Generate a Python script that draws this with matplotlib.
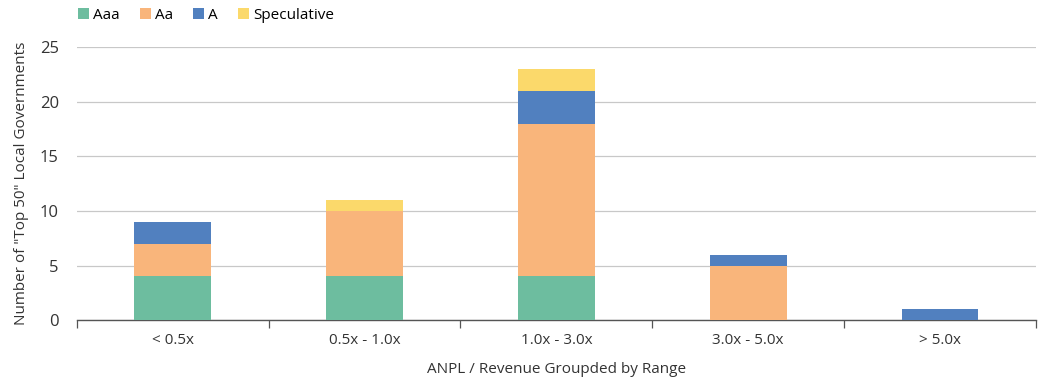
import matplotlib
matplotlib.use("Agg")
import matplotlib.pyplot as plt
import numpy as np

categories = ["< 0.5x", "0.5x - 1.0x", "1.0x - 3.0x", "3.0x - 5.0x", "> 5.0x"]
aaa = [4, 4, 4, 0, 0]
aa = [3, 6, 14, 5, 0]
a = [2, 0, 3, 1, 1]
speculative = [0, 1, 2, 0, 0]

series = [("Aaa", aaa, "#6dbd9f"), ("Aa", aa, "#f9b57b"),
          ("A", a, "#5180bf"), ("Speculative", speculative, "#fbd96b")]

plt.rcParams["font.family"] = ["Open Sans", "DejaVu Sans"]
plt.rcParams["font.size"] = 11

fig = plt.figure(figsize=(10.39, 3.83), dpi=100)
ax = fig.add_axes([0.074, 0.164, 0.923, 0.713])

x = np.arange(len(categories))
bottom = np.zeros(len(categories))
for name, vals, col in series:
    v = np.array(vals, dtype=float)
    ax.bar(x, v, width=0.4, bottom=bottom, color=col, label=name, zorder=3)
    bottom += v

ax.set_xlim(-0.5, len(categories) - 0.5)
ax.set_ylim(0, 25)
ax.set_yticks([0, 5, 10, 15, 20, 25])
ax.yaxis.grid(True, color="#c8c8c8", linewidth=0.9, zorder=0)
ax.tick_params(axis="y", length=0, pad=13, labelcolor="#333333", labelsize=12)

ax.set_xticks(x)
ax.set_xticklabels(categories, color="#333333")
ax.tick_params(axis="x", which="major", length=0, pad=9)
ax.set_xticks(np.arange(-0.5, len(categories), 1.0), minor=True)
ax.tick_params(axis="x", which="minor", length=6, width=0.9, color="#555555", direction="out")

for s in ["top", "right", "left"]:
    ax.spines[s].set_visible(False)
ax.spines["bottom"].set_color("#555555")
ax.spines["bottom"].set_linewidth(1.0)

ax.set_ylabel('Number of "Top 50" Local Governments', color="#333333", labelpad=8)
ax.set_xlabel("ANPL / Revenue Groupded by Range", color="#333333", labelpad=10)

fig.legend(loc="upper left", bbox_to_anchor=(0.062, 1.015), ncol=4, frameon=False,
           handlelength=0.7, handleheight=0.7, handletextpad=0.3, columnspacing=1.3,
           fontsize=11)

fig.savefig("out.png", dpi=100)
